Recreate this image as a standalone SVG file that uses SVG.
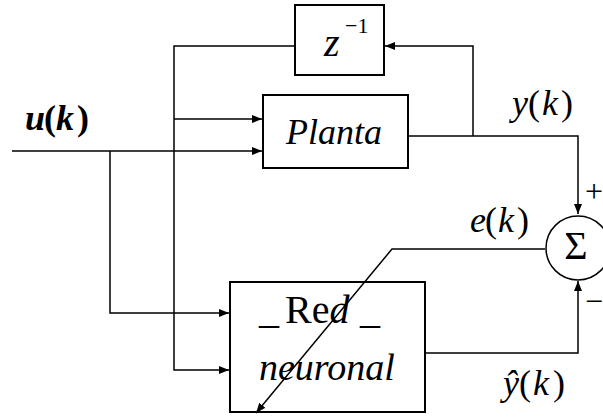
<svg xmlns="http://www.w3.org/2000/svg" width="603" height="418" viewBox="0 0 603 418">
<style>
.ln{fill:none;stroke:#000;stroke-width:1.5}
.bx{fill:#fff;stroke:#000;stroke-width:2}
.t{font-family:"Liberation Serif","DejaVu Serif","Times New Roman",serif;font-size:36px;fill:#000}
.i{font-style:italic}
.n{font-style:normal}
</style>
<defs>
<marker id="ar" viewBox="0 0 10 8" refX="10" refY="4" markerWidth="10" markerHeight="8" markerUnits="userSpaceOnUse" orient="auto">
<path d="M0,0L10,4L0,8z" fill="#000"/>
</marker>
</defs>
<rect width="603" height="418" fill="#fff"/>
<g id="delay">
<rect class="bx" x="295" y="5" width="89" height="70"/>
<text class="t i" x="324" y="56" style="font-size:40px">z</text>
<text class="t" x="345" y="33" style="font-size:22px">−1</text>
</g>
<g id="planta">
<rect class="bx" x="263" y="95" width="145" height="73"/>
<text class="t i" x="286" y="144">Planta</text>
</g>
<g id="red">
<rect class="bx" x="230" y="282" width="195" height="130"/>
<text class="t" x="259" y="323" style="font-size:40px"><tspan>_</tspan><tspan x="285">Re</tspan><tspan class="i">d</tspan><tspan x="360">_</tspan></text>
<text class="t i" x="259" y="380" style="font-size:38px">neuronal</text>
</g>
<g id="sum">
<circle cx="578" cy="248" r="32" fill="#fff" stroke="#000" stroke-width="1.5"/>
<text class="t" x="576" y="259" style="font-size:40px" text-anchor="middle">Σ</text>
<text class="t" x="585" y="202" style="font-size:32px">+</text>
<text class="t" x="585" y="312" style="font-size:32px">−</text>
</g>
<g id="labels">
<text class="t i" x="25" y="130" style="font-weight:bold"><tspan>u</tspan><tspan x="44" class="n">(</tspan><tspan x="56">k</tspan><tspan x="77" class="n">)</tspan></text>
<text class="t i" x="512" y="115"><tspan>y</tspan><tspan x="528" class="n">(</tspan><tspan x="542">k</tspan><tspan x="561" class="n">)</tspan></text>
<text class="t i" x="470" y="232"><tspan>e</tspan><tspan x="485" class="n">(</tspan><tspan x="498">k</tspan><tspan x="517" class="n">)</tspan></text>
<text class="t i" x="503" y="395"><tspan>ŷ</tspan><tspan x="519" class="n">(</tspan><tspan x="533">k</tspan><tspan x="553" class="n">)</tspan></text>
</g>
<g id="connectors">
<path class="ln" d="M12,151H262" marker-end="url(#ar)"/>
<path class="ln" d="M110,151V313H229" marker-end="url(#ar)"/>
<path class="ln" d="M295,46H174V370H229" marker-end="url(#ar)"/>
<path class="ln" d="M174,119H262" marker-end="url(#ar)"/>
<path class="ln" d="M408,136H578V214" marker-end="url(#ar)"/>
<path class="ln" d="M473,136V46H385" marker-end="url(#ar)"/>
<path class="ln" d="M425,353H578V281" marker-end="url(#ar)"/>
<path class="ln" d="M545,249H392L256,413" marker-end="url(#ar)"/>
</g>
</svg>
